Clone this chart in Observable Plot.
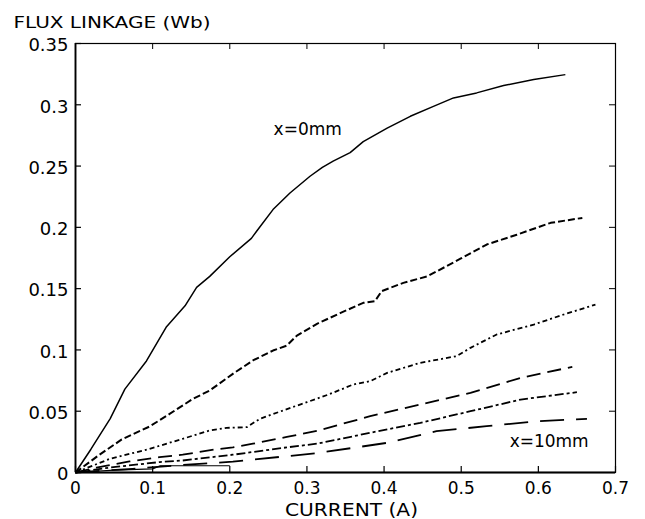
<!DOCTYPE html>
<html>
<head>
<meta charset="utf-8">
<script src="https://cdn.jsdelivr.net/npm/d3@7"></script>
<script src="https://cdn.jsdelivr.net/npm/@observablehq/plot@0.6"></script>
<style>
  html, body { margin: 0; padding: 0; background: #fff; }
  svg { display: block; }
</style>
</head>
<body>
<div id="chart"></div>
<script>
// ---- tick values and labels ----
const xTicks = [0, 0.1, 0.2, 0.3, 0.4, 0.5, 0.6, 0.7];
const xTickLabels = ["0", "0.1", "0.2", "0.3", "0.4", "0.5", "0.6", "0.7"];
const yTicks = [0, 0.05, 0.1, 0.15, 0.2, 0.25, 0.3, 0.35];
const yTickLabels = ["0", "0.05", "0.1", "0.15", "0.2", "0.25", "0.3", "0.35"];

// ---- texts ----
const yTitle = "FLUX LINKAGE (Wb)";
const xTitle = "CURRENT (A)";
const curveLabels = ["x=0mm", "x=10mm"];
const curveLabelX = [0.301, 0.614];
const curveLabelY = [0.280, 0.025];

// ---- curves (current A, flux linkage Wb) ----
const current1 = [0, 0.02, 0.045, 0.064, 0.092, 0.118, 0.142, 0.157, 0.174, 0.2, 0.228, 0.235, 0.256, 0.278, 0.304, 0.32, 0.334, 0.356, 0.373, 0.404, 0.434, 0.464, 0.49, 0.52, 0.555, 0.594, 0.635];
const flux1    = [0, 0.019, 0.044, 0.068, 0.091, 0.119, 0.136, 0.151, 0.160, 0.176, 0.191, 0.197, 0.2145, 0.228, 0.2417, 0.249, 0.254, 0.261, 0.270, 0.281, 0.2906, 0.2987, 0.3056, 0.3097, 0.3157, 0.3206, 0.3246];

const current2 = [0, 0.03, 0.06, 0.096, 0.122, 0.152, 0.174, 0.204, 0.23, 0.256, 0.274, 0.287, 0.313, 0.343, 0.373, 0.388, 0.397, 0.425, 0.456, 0.499, 0.533, 0.572, 0.616, 0.657];
const flux2    = [0, 0.014, 0.027, 0.0375, 0.0478, 0.060, 0.0669, 0.0805, 0.0914, 0.0995, 0.1036, 0.1117, 0.1213, 0.130, 0.1384, 0.1397, 0.148, 0.1547, 0.160, 0.1744, 0.186, 0.194, 0.2037, 0.2077];

const current3 = [0, 0.044, 0.096, 0.139, 0.174, 0.196, 0.222, 0.239, 0.269, 0.300, 0.328, 0.36, 0.382, 0.404, 0.447, 0.494, 0.512, 0.546, 0.594, 0.633, 0.674];
const flux3    = [0, 0.011, 0.0193, 0.0275, 0.0343, 0.0364, 0.037, 0.0438, 0.0506, 0.0574, 0.0636, 0.0718, 0.0745, 0.0813, 0.0895, 0.0949, 0.1017, 0.1126, 0.1207, 0.1289, 0.137];

const current4 = [0, 0.027, 0.07, 0.109, 0.139, 0.183, 0.204, 0.23, 0.274, 0.313, 0.382, 0.447, 0.512, 0.577, 0.644];
const flux4    = [0, 0.004, 0.009, 0.0125, 0.0145, 0.019, 0.0205, 0.0235, 0.029, 0.034, 0.0459, 0.0555, 0.065, 0.0772, 0.0862];

const current5 = [0, 0.044, 0.109, 0.139, 0.204, 0.274, 0.313, 0.382, 0.447, 0.512, 0.577, 0.65];
const flux5    = [0, 0.004, 0.0085, 0.0098, 0.0145, 0.0205, 0.0235, 0.0324, 0.0405, 0.050, 0.0595, 0.0655];

const current6 = [0, 0.074, 0.139, 0.204, 0.274, 0.313, 0.404, 0.468, 0.533, 0.598, 0.663];
const flux6    = [0, 0.003, 0.0062, 0.0088, 0.0133, 0.0158, 0.0242, 0.0337, 0.0378, 0.0418, 0.0438];

const current7 = [0, 0.05, 0.1, 0.11, 0.2];
const flux7    = [0, 0.002, 0.003, 0.0055, 0.0055];

// ---- build tables ----
const toRows = (xs, ys) => xs.map((x, i) => ({ x, y: ys[i] }));
const curves = [
  { rows: toRows(current1, flux1), dash: null,        sw: 1.5 },
  { rows: toRows(current2, flux2), dash: "7,3",       sw: 2 },
  { rows: toRows(current3, flux3), dash: "5,3,2,3",   sw: 1.8 },
  { rows: toRows(current4, flux4), dash: "14,7",      sw: 1.8 },
  { rows: toRows(current5, flux5), dash: "9,3,3,3",   sw: 1.8 },
  { rows: toRows(current6, flux6), dash: "24,12",     sw: 1.8 },
  { rows: toRows(current7, flux7), dash: null,        sw: 1.2 }
];
const labelRows = curveLabels.map((t, i) => ({ t, x: curveLabelX[i], y: curveLabelY[i] }));

const W = 645, H = 519, mL = 75, mR = 30, mT = 43, mB = 47;
const frameW = W - mL - mR, frameH = H - mT - mB, tick = 6;

const chart = Plot.plot({
  width: W, height: H,
  marginLeft: mL, marginRight: mR, marginTop: mT, marginBottom: mB,
  x: { domain: [0, 0.7] },
  y: { domain: [0, 0.35] },
  style: { fontFamily: "DejaVu Sans", background: "#fff", color: "#000", overflow: "visible" },
  marks: [
    // curves
    ...curves.map(c => Plot.line(c.rows, {
      x: "x", y: "y", stroke: "#000", strokeWidth: c.sw,
      strokeDasharray: c.dash, strokeLinecap: "butt", strokeLinejoin: "round"
    })),
    // box
    Plot.frame({ stroke: "#000", strokeWidth: 1.2 }),
    Plot.ruleX([0], { stroke: "#000", strokeWidth: 1.8 }),
    Plot.ruleY([0], { stroke: "#000", strokeWidth: 1.8 }),
    // inward ticks on all four sides
    Plot.tickX(xTicks, { x: d => d, insetTop: frameH - tick, stroke: "#000", strokeWidth: 1.2 }),
    Plot.tickX(xTicks, { x: d => d, insetBottom: frameH - tick, stroke: "#000", strokeWidth: 1 }),
    Plot.tickY(yTicks, { y: d => d, insetRight: frameW - tick, stroke: "#000", strokeWidth: 1.2 }),
    Plot.tickY(yTicks, { y: d => d, insetLeft: frameW - tick, stroke: "#000", strokeWidth: 1 }),
    // axes labels
    Plot.axisX(xTicks, { anchor: "bottom", tickSize: 0, tickPadding: 9, fontSize: 17,
      tickFormat: (d, i) => xTickLabels[i], label: null }),
    Plot.axisY(yTicks, { anchor: "left", tickSize: 0, tickPadding: 7, fontSize: 18, dy: 2,
      tickFormat: (d, i) => yTickLabels[i], label: null }),
    // titles
    Plot.text([yTitle], { text: d => d, frameAnchor: "top-left", textAnchor: "start",
      lineAnchor: "bottom", dx: 13 - mL, dy: 27 - mT, fontSize: 16, fill: "#000", className: "ytitle" }),
    Plot.text([xTitle], { text: d => d, frameAnchor: "bottom", textAnchor: "middle",
      lineAnchor: "bottom", dx: 6, dy: 43, fontSize: 17, fill: "#000", className: "xtitle" }),
    // curve annotations
    Plot.text(labelRows, { x: "x", y: "y", text: "t", fontSize: 17, fill: "#000" })
  ]
});

d3.select(chart).selectAll(".ytitle text").attr("textLength", 197).attr("lengthAdjust", "spacingAndGlyphs");
d3.select(chart).selectAll(".xtitle text").attr("textLength", 133).attr("lengthAdjust", "spacingAndGlyphs");

document.getElementById("chart").appendChild(chart);
</script>
</body>
</html>
